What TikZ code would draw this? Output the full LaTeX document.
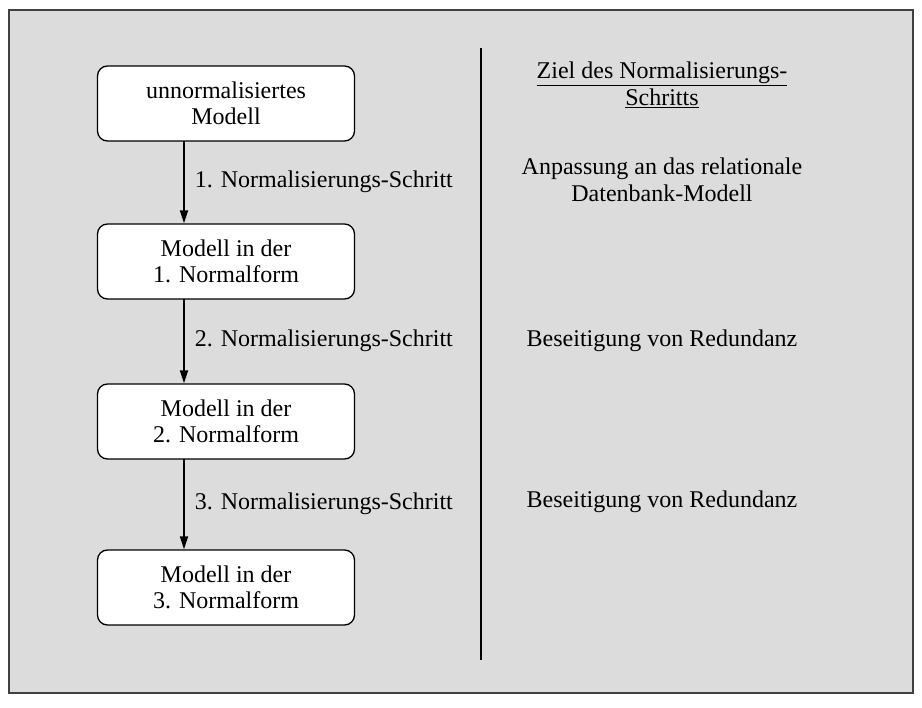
\documentclass[tikz,border=0pt]{standalone}
\usepackage{fontspec}
\setmainfont{Liberation Serif}
\usetikzlibrary{arrows.meta}
\definecolor{bg}{HTML}{DCDCDC}
\definecolor{frame}{HTML}{404040}
\begin{document}
\begin{tikzpicture}[x=1pt,y=-1pt,
  stagebox/.style={draw=black, line width=1.3pt, fill=white, rounded corners=10pt,
    minimum width=257pt, minimum height=75pt, align=center, inner sep=0pt,
    font=\fontsize{24}{26.5}\selectfont},
  lbl/.style={font=\fontsize{24}{26.5}\selectfont, align=center, inner sep=0pt},
  steparrow/.style={-{Triangle[length=13pt,width=8pt]}, line width=1.8pt}]
\useasboundingbox (0,0) rectangle (922,708);
\draw[frame, line width=1.5pt, fill=bg] (9,10) rectangle (913,693);
\node[stagebox] (m0) at (226,103.5) {unnormalisiertes\\Modell};
\node[stagebox] (m1) at (226,261.5) {Modell in der\\1. Normalform};
\node[stagebox] (m2) at (226,421.5) {Modell in der\\2. Normalform};
\node[stagebox] (m3) at (226,587.5) {Modell in der\\3. Normalform};
\coordinate (a0) at (184,141);
\coordinate (a1) at (184,299);
\coordinate (a2) at (184,459);
\draw[steparrow] (a0) -- (a0 |- m1.north) node[midway, right=10pt, lbl] {1. Normalisierungs-Schritt};
\draw[steparrow] (a1) -- (a1 |- m2.north) node[midway, right=10pt, lbl] {2. Normalisierungs-Schritt};
\draw[steparrow] (a2) -- (a2 |- m3.north) node[midway, right=10pt, lbl] {3. Normalisierungs-Schritt};
\coordinate (vt) at (481,48);
\coordinate (vb) at (481,660);
\draw[line width=2.5pt] (vt) -- (vb);
\node[lbl] (h) at (662,85) {\underline{Ziel des Normalisierungs-}\\\underline{Schritts}};
\node[lbl] (g1) at (662,180) {Anpassung an das relationale\\Datenbank-Modell};
\node[lbl] (g2) at (662,341) {Beseitigung von Redundanz};
\node[lbl] (g3) at (662,502) {Beseitigung von Redundanz};
\end{tikzpicture}
\end{document}
